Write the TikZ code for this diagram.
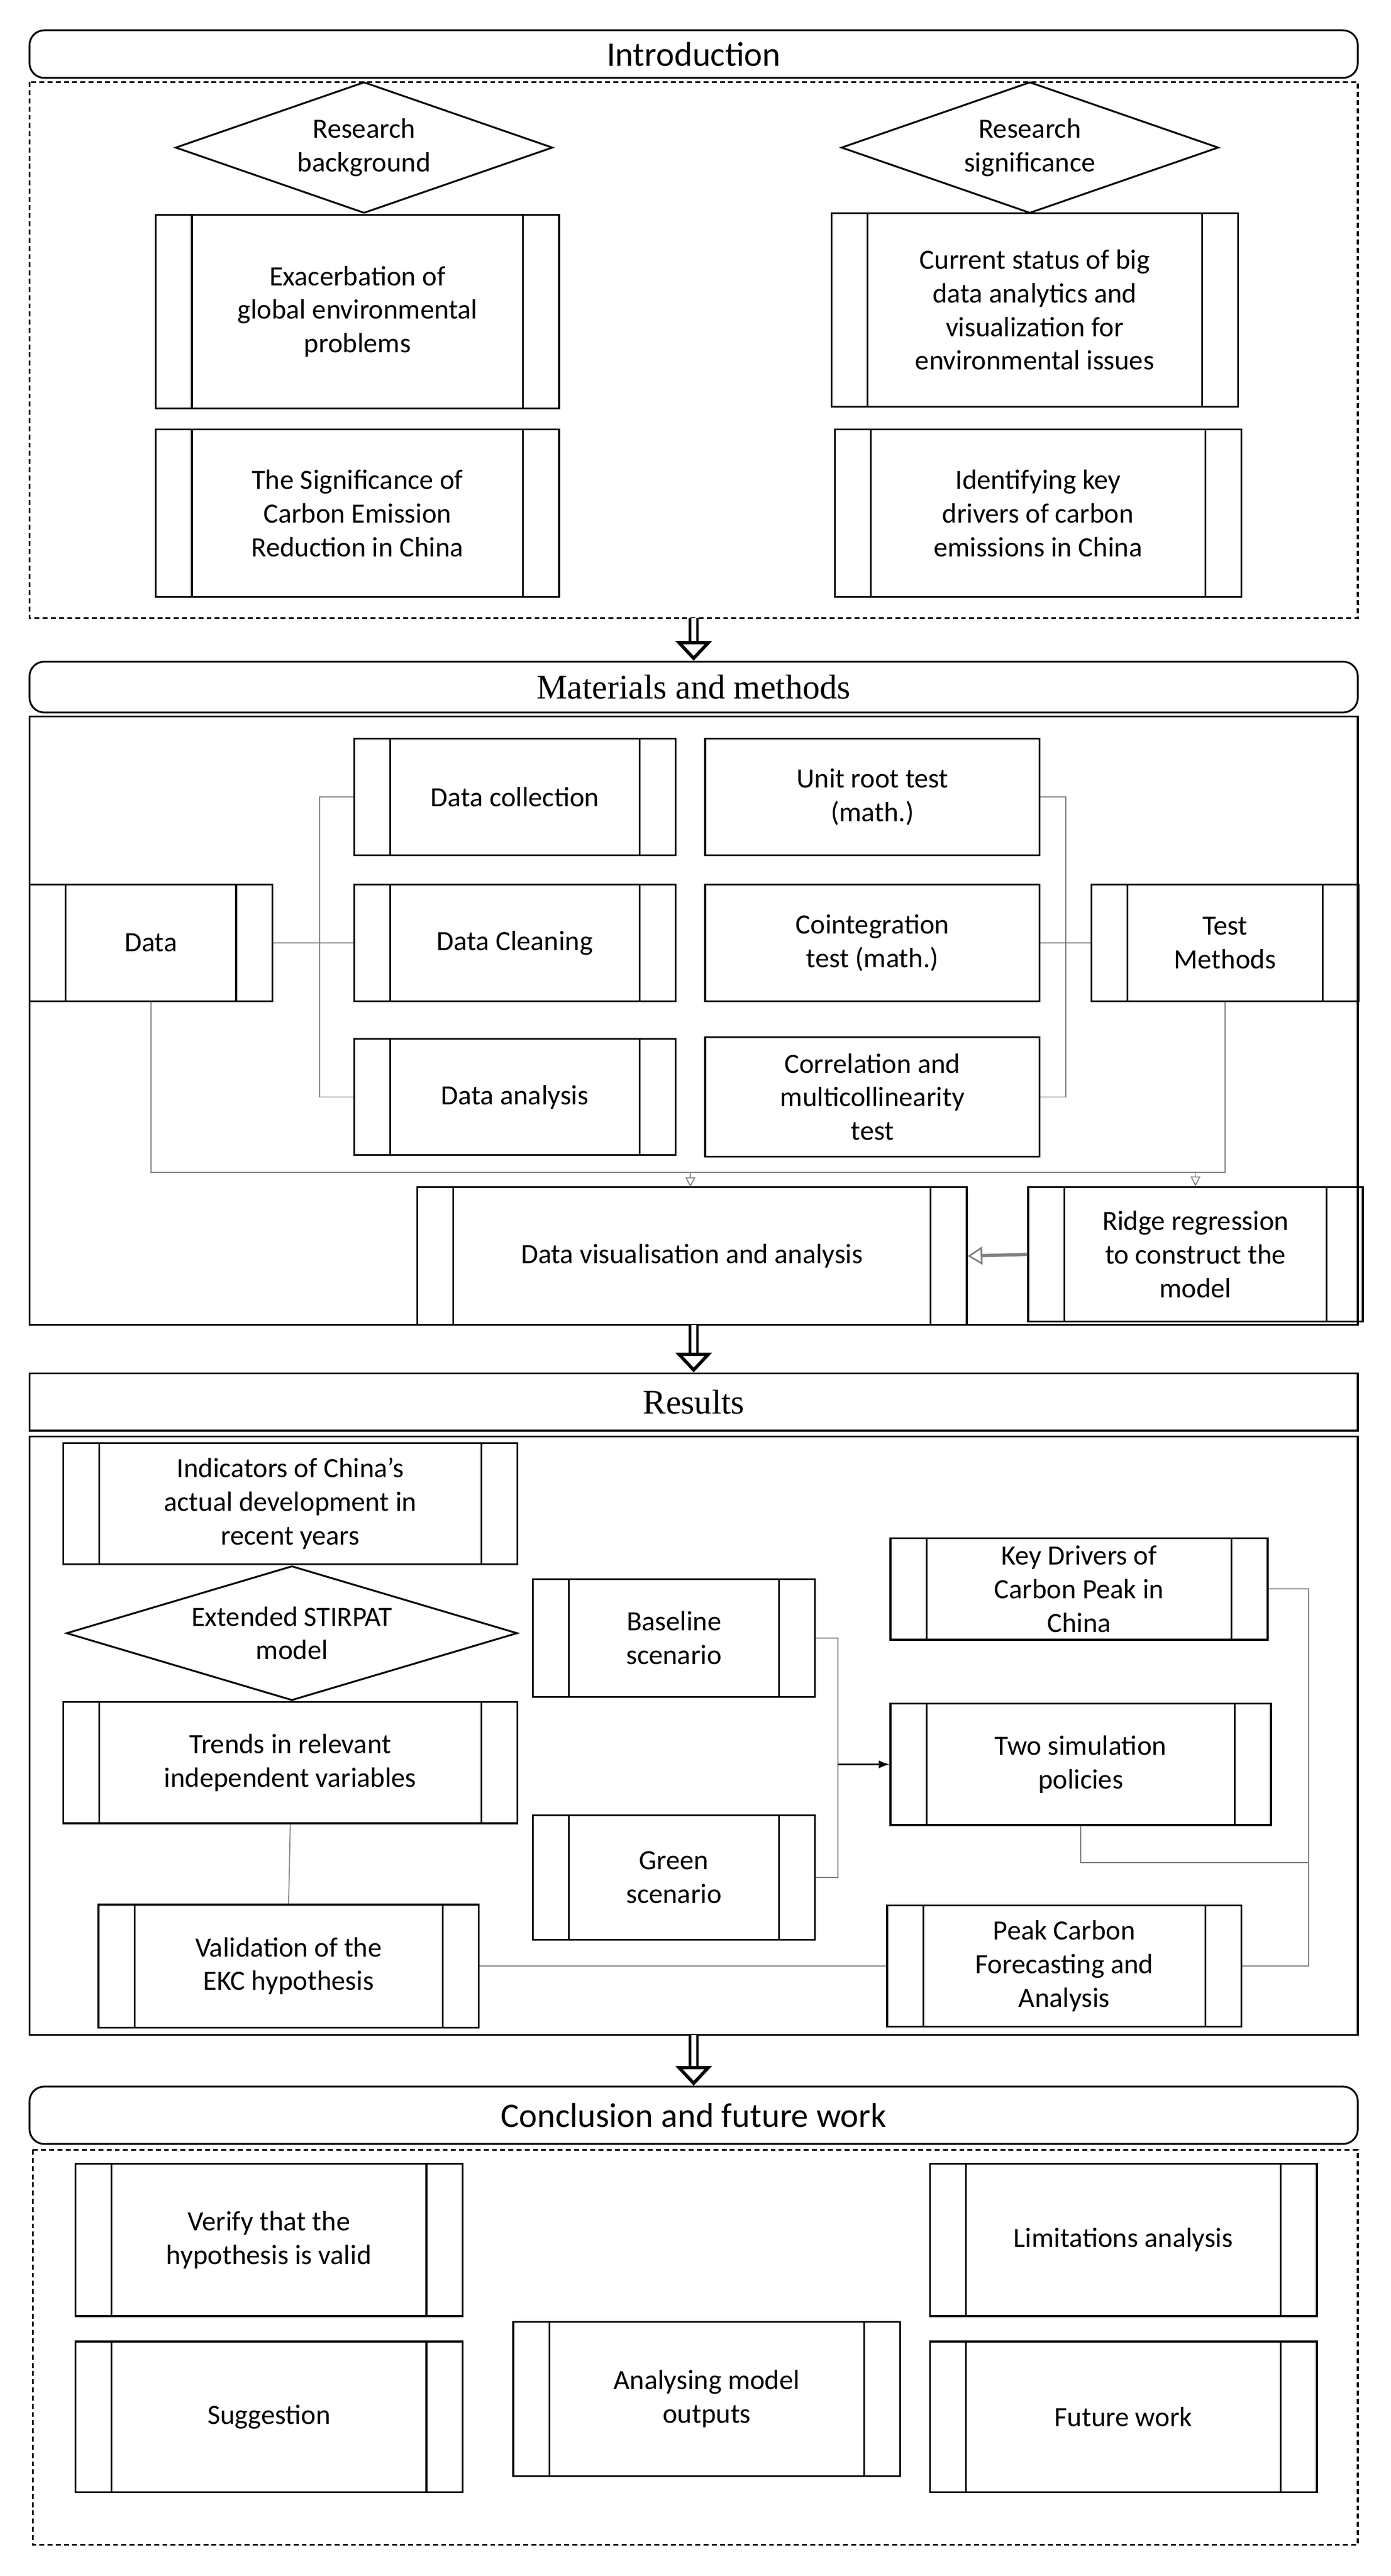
\documentclass[tikz,border=0pt]{standalone}
\usepackage{fontspec}
\setmainfont{Carlito}
\newfontfamily\headserif{Liberation Serif}
\usetikzlibrary{arrows.meta,shapes.geometric}

\begin{document}
\begin{tikzpicture}[x=1pt, y=-1pt, >=Latex,
    box/.style={draw, line width=1.1pt, font=\fontsize{17}{20.5}\selectfont, align=center, inner sep=0pt},
    proc/.style={box, path picture={
        \draw[line width=1.1pt] ([xshift=22pt]path picture bounding box.north west) -- ([xshift=22pt]path picture bounding box.south west);
        \draw[line width=1.1pt] ([xshift=-22pt]path picture bounding box.north east) -- ([xshift=-22pt]path picture bounding box.south east);}},
    head/.style={draw, line width=1.1pt, minimum width=810pt, font=\fontsize{21}{25}\selectfont},
    frame/.style={draw, line width=1.1pt},
    dframe/.style={draw, line width=1.1pt, dash pattern=on 3pt off 2pt},
    dia/.style={box, diamond, aspect=2.9},
    link/.style={draw=gray, line width=0.6pt},
    secarrow/.style={double=white, double distance=3pt, line width=1.5pt, -{Triangle[open, length=12pt, width=22pt, line width=2pt]}}]
  \useasboundingbox (0,0) rectangle (848,1571);

  % Introduction
  \node[head, rounded corners=9pt, minimum height=29pt] (intro) at (423,33) {Introduction};
  \draw[dframe] (18,50) rectangle (828,377);
  \node[dia, minimum width=230pt, minimum height=80pt] (bg) at (222,90) {Research\\background};
  \node[dia, minimum width=230pt, minimum height=80pt] (sig) at (628,90) {Research\\significance};
  \node[proc, minimum width=246pt, minimum height=118pt] (exa) at (218,190) {Exacerbation of\\global environmental\\problems};
  \node[proc, minimum width=246pt, minimum height=102pt] (sgn) at (218,313) {The Significance of\\Carbon Emission\\Reduction in China};
  \node[proc, minimum width=248pt, minimum height=118pt] (big) at (631,189) {Current status of big\\data analytics and\\visualization for\\environmental issues};
  \node[proc, minimum width=248pt, minimum height=102pt] (key) at (633,313) {Identifying key\\drivers of carbon\\emissions in China};

  % Materials and methods
  \node[head, rounded corners=9pt, minimum height=31pt, font=\headserif\fontsize{21}{25}\selectfont] (mat) at (423,419) {Materials and methods};
  \draw[frame] (18,437) rectangle (828,808);
  \node[proc, minimum width=148pt, minimum height=71pt] (data) at (92,575) {Data};
  \node[proc, minimum width=196pt, minimum height=71pt] (coll) at (314,486) {Data collection};
  \node[proc, minimum width=196pt, minimum height=71pt] (clean) at (314,575) {Data Cleaning};
  \node[proc, minimum width=196pt, minimum height=71pt] (anal) at (314,669) {Data analysis};
  \node[box, minimum width=204pt, minimum height=71pt] (unit) at (532,486) {Unit root test\\(math.)};
  \node[box, minimum width=204pt, minimum height=71pt] (coin) at (532,575) {Cointegration\\test (math.)};
  \node[box, minimum width=204pt, minimum height=73pt] (corr) at (532,669) {Correlation and\\multicollinearity\\test};
  \node[proc, minimum width=163pt, minimum height=71pt] (test) at (747,575) {Test\\Methods};
  \node[proc, minimum width=335pt, minimum height=84pt] (vis) at (422,766) {Data visualisation and analysis};
  \node[proc, minimum width=204pt, minimum height=82pt] (ridge) at (729,765) {Ridge regression\\to construct the\\model};
  \coordinate (split) at (421,715);
  \draw[link] (data.east) -- (clean.west);
  \draw[link] (coll.west) -| (195,575) |- (anal.west);
  \draw[link] (unit.east) -| (650,575) |- (corr.east);
  \draw[link] (coin.east) -- (test.west);
  \draw[link] (data.south) |- (747,715) -- (test.south);
  \draw[link, -{Triangle[open, length=6pt, width=6pt]}] (split) -- (421,724);
  \draw[link, -{Triangle[open, length=6pt, width=6pt]}] (729,715) -- (ridge.north);
  \draw[draw=gray, line width=2pt, -{Triangle[open, length=9pt, width=11pt, line width=1pt]}] (ridge.west) -- (vis.east);

  % Results
  \node[head, minimum height=35pt, font=\headserif\fontsize{21}{25}\selectfont] (res) at (423,855) {Results};
  \draw[frame] (18,876) rectangle (828,1241);
  \node[proc, minimum width=277pt, minimum height=74pt] (ind) at (177,917) {Indicators of China's\\actual development in\\recent years};
  \node[dia, minimum width=275pt, minimum height=82pt, aspect=3.4] (stir) at (178,996) {Extended STIRPAT\\model};
  \node[proc, minimum width=277pt, minimum height=74pt] (trend) at (177,1075) {Trends in relevant\\independent variables};
  \node[proc, minimum width=232pt, minimum height=75pt] (ekc) at (176,1199) {Validation of the\\EKC hypothesis};
  \node[proc, minimum width=172pt, minimum height=72pt] (base) at (411,999) {Baseline\\scenario};
  \node[proc, minimum width=172pt, minimum height=76pt] (green) at (411,1145) {Green\\scenario};
  \node[proc, minimum width=230pt, minimum height=62pt] (drv) at (658,969) {Key Drivers of\\Carbon Peak in\\China};
  \node[proc, minimum width=232pt, minimum height=74pt] (pol) at (659,1076) {Two simulation\\policies};
  \node[proc, minimum width=216pt, minimum height=74pt] (peak) at (649,1199) {Peak Carbon\\Forecasting and\\Analysis};
  \coordinate (join) at (511,1076);
  \draw[link] (base.east) -| (join) |- (green.east);
  \draw[line width=0.8pt, ->] (join) -- (pol.west);
  \draw[link] (trend.south) -- (ekc.north);
  \draw[link] (ekc.east) -- (peak.west);
  \draw[link] (drv.east) -| (798,1199) -- (peak.east);
  \draw[link] (pol.south) |- (798,1136);

  % Conclusion and future work
  \node[head, rounded corners=9pt, minimum height=35pt] (conc) at (423,1290) {Conclusion and future work};
  \draw[dframe] (20,1311) rectangle (828,1552);
  \node[proc, minimum width=236pt, minimum height=93pt] (ver) at (164,1366) {Verify that the\\hypothesis is valid};
  \node[proc, minimum width=236pt, minimum height=92pt] (sug) at (164,1474) {Suggestion};
  \node[proc, minimum width=236pt, minimum height=94pt] (out) at (431,1463) {Analysing model\\outputs};
  \node[proc, minimum width=236pt, minimum height=93pt] (lim) at (685,1366) {Limitations analysis};
  \node[proc, minimum width=236pt, minimum height=92pt] (fut) at (685,1474) {Future work};

  % section arrows
  \draw[secarrow] (423,377) -- (mat.north);
  \draw[secarrow] (423,808) -- (res.north);
  \draw[secarrow] (423,1241) -- (conc.north);
\end{tikzpicture}
\end{document}
